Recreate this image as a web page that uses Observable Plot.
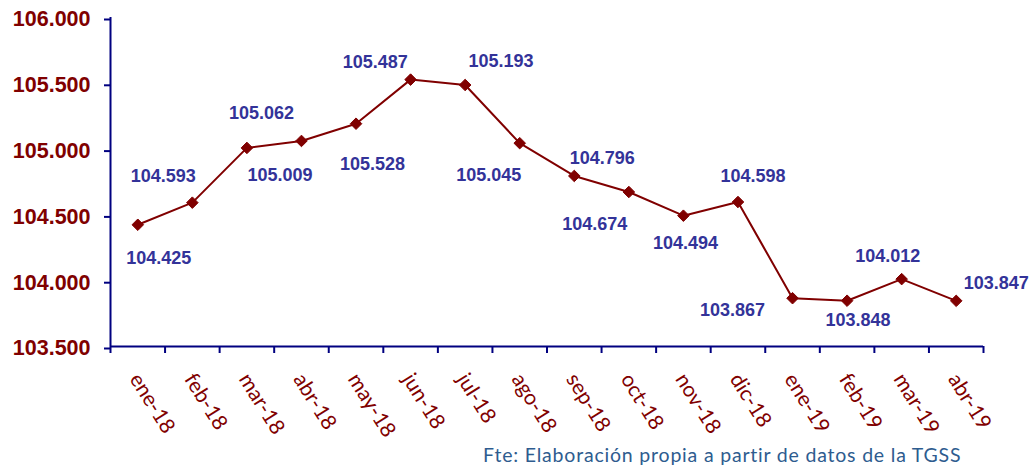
<!DOCTYPE html>
<html>
<head>
<meta charset="utf-8">
<script src="https://cdn.jsdelivr.net/npm/d3@7"></script>
<script src="https://cdn.jsdelivr.net/npm/@observablehq/plot@0.6"></script>
<style>
  body { margin: 0; background: #fff; }
  #chart svg { overflow: visible; }
  #cap { font-family: Lato, "Open Sans", sans-serif; font-size: 19.5px; letter-spacing: 0.8px; color: #2e5c8f;
         padding-left: 483px; height: 25px; line-height: 25px; white-space: nowrap; }
</style>
</head>
<body>
<div id="chart"></div>
<div id="cap">Fte: Elaboración propia a partir de datos de la TGSS</div>
<script>
// Data
const months = ["ene-18","feb-18","mar-18","abr-18","may-18","jun-18","jul-18","ago-18",
                "sep-18","oct-18","nov-18","dic-18","ene-19","feb-19","mar-19","abr-19"];
const afiliados = [104425, 104593, 105009, 105062, 105193, 105528, 105487, 105045,
                   104796, 104674, 104494, 104598, 103867, 103848, 104012, 103847];
const yTicks = [103500, 104000, 104500, 105000, 105500, 106000];

// Label nudges (px) to mimic the manual label placement of the original
const labelDx = [21, -29, 33, -40, 145, -38, -90, -31, 28, -34, 2, 15, -60, 11, -14, 40];
const labelDy = [33, -26, 27, -28, -62, 85, -23, 32, -18, 32, 28, -26, 12, 20, -23, -18];

const loc = d3.formatLocale({decimal: ",", thousands: ".", grouping: [3], currency: ["", "€"]});
const fmt = loc.format(",d");

const navy = "#000080";
const red = "#800000";
const idx = d3.range(months.length);
const bounds = d3.range(months.length + 1).map(i => i - 0.5);

const labels = idx.map(i => Plot.text([i], {
  x: d => d, y: d => afiliados[d], text: d => fmt(afiliados[d]),
  dx: labelDx[i], dy: labelDy[i],
  fill: "#333399", fontSize: 18, fontWeight: "bold",
  fontFamily: "Liberation Sans, Arial, sans-serif"
}));

const chart = Plot.plot({
  width: 1030,
  height: 442,
  marginLeft: 110,
  marginRight: 47,
  marginTop: 17,
  marginBottom: 96,
  x: {type: "linear", domain: [-0.5, months.length - 0.5]},
  y: {domain: [103500, 106000]},
  marks: [
    Plot.axisY({ticks: yTicks, tickSize: 6, tickPadding: 14, tickFormat: fmt, label: null,
      stroke: navy, strokeWidth: 2, fill: red, fontSize: 21.5, fontWeight: "bold",
      fontFamily: "Liberation Sans, Arial, sans-serif", dy: 2}),
    Plot.axisX({ticks: bounds, tickSize: 7, tickFormat: () => "", label: null,
      stroke: navy, strokeWidth: 2}),
    Plot.axisX({ticks: idx, tickSize: 0, tickPadding: 29, tickRotate: 58, label: null,
      tickFormat: i => months[i], fill: red, fontSize: 21,
      fontFamily: "Lato, sans-serif", dx: -3}),
    Plot.ruleX([-0.5], {y1: 103500, y2: 106000, stroke: navy, strokeWidth: 2}),
    Plot.ruleY([103500], {x1: -0.5, x2: months.length - 0.5, stroke: navy, strokeWidth: 2}),
    Plot.line(idx, {x: d => d, y: d => afiliados[d], stroke: red, strokeWidth: 2}),
    Plot.dot(idx, {x: d => d, y: d => afiliados[d], symbol: "diamond2", r: 5.2, fill: red, stroke: red, strokeWidth: 1}),
    ...labels
  ]
});
document.getElementById("chart").appendChild(chart);
</script>
</body>
</html>
